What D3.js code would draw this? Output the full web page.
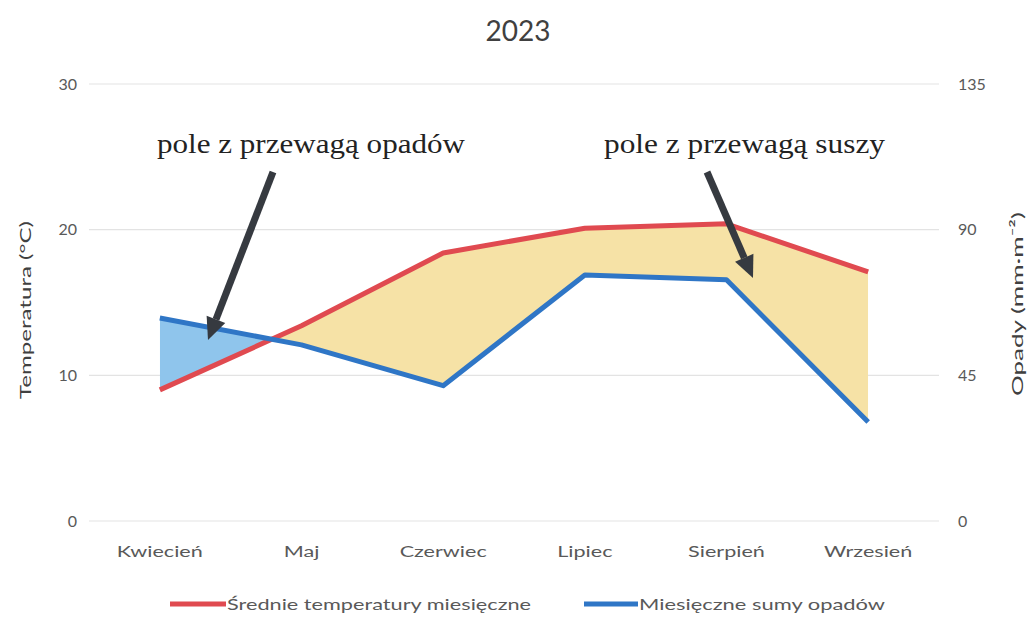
<!DOCTYPE html>
<html><head><meta charset="utf-8">
<script src="https://cdn.jsdelivr.net/npm/d3@7"></script>
<style>body{margin:0;background:#fff}svg{display:block}</style>
</head><body>
<svg id="c" width="1034" height="617"></svg>
<script>
const months = ["Kwiecień","Maj","Czerwiec","Lipiec","Sierpień","Wrzesień"];
const temperature = [9.0, 13.4, 18.4, 20.1, 20.4, 17.1];
const precipitation = [62.7, 54.4, 41.8, 76.0, 74.5, 30.6];
const tempTicks = [0,10,20,30];
const precTicks = [0,45,90,135];
const title = "2023";
const leftTitle = "Temperatura (°C)";
const rightTitle = "Opady (mm·m⁻²)";
const legendLabels = ["Średnie temperatury miesięczne","Miesięczne sumy opadów"];
const notes = ["pole z przewagą opadów","pole z przewagą suszy"];

const svg = d3.select("#c");
const L=89, R=939, T=84, B=521;
const RED="#e04a50", BLUE="#2f76c6", FILLY="#f6e2a6", FILLB="#8fc5ec", TXT="#595959";
const font="Lato, 'Open Sans', sans-serif";

const x = d3.scaleBand().domain(months).range([L,R]);
const cx = m => x(m)+x.bandwidth()/2;
const yT = d3.scaleLinear().domain([0,30]).range([B,T]);
const yP = d3.scaleLinear().domain([0,135]).range([B,T]);

// title
svg.append("text").attr("x",518).attr("y",41).attr("text-anchor","middle")
  .attr("font-family",font).attr("font-size",28).attr("fill","#404040").text(title);

// gridlines
svg.append("g").selectAll("line").data(tempTicks).join("line")
  .attr("x1",L).attr("x2",R).attr("y1",d=>yT(d)).attr("y2",d=>yT(d))
  .attr("stroke","#e3e3e3").attr("stroke-width",1.2);

// axes
const gl = svg.append("g").attr("transform",`translate(${L-12},0)`)
  .call(d3.axisLeft(yT).tickValues(tempTicks).tickSize(0).tickPadding(0));
const gr = svg.append("g").attr("transform",`translate(${R+19},0)`)
  .call(d3.axisRight(yP).tickValues(precTicks).tickSize(0).tickPadding(0));
const gx = svg.append("g").attr("transform",`translate(0,${B+22})`)
  .call(d3.axisBottom(x).tickSize(0).tickPadding(0));
[gl,gr,gx].forEach(g=>{g.select(".domain").remove();
  g.selectAll("text").attr("font-family",font).attr("font-size",16).attr("fill",TXT);});
gx.selectAll("text").attr("dy","0.9em").attr("transform","scale(1.35,1)");

// axis titles
svg.append("text").attr("transform",`translate(31,310) rotate(-90)`).attr("text-anchor","middle")
  .attr("font-family",font).attr("font-size",16).attr("fill","#404040")
  .attr("textLength",178).attr("lengthAdjust","spacingAndGlyphs").text(leftTitle);
svg.append("text").attr("transform",`translate(1023,304) rotate(-90)`).attr("text-anchor","middle")
  .attr("font-family",font).attr("font-size",16).attr("fill","#404040")
  .attr("textLength",184).attr("lengthAdjust","spacingAndGlyphs").text(rightTitle);

// fills between lines
const data = months.map((m,i)=>({m,t:temperature[i],p:precipitation[i]}));
const between = d3.area().x(d=>cx(d.m)).y0(d=>yT(d.t)).y1(d=>yP(d.p));
const above = d3.area().x(d=>cx(d.m)).y0(T-50).y1(d=>yT(d.t));
const below = d3.area().x(d=>cx(d.m)).y0(B+50).y1(d=>yT(d.t));
const defs = svg.append("defs");
defs.append("clipPath").attr("id","ca").append("path").attr("d",above(data));
defs.append("clipPath").attr("id","cb").append("path").attr("d",below(data));
svg.append("path").attr("d",between(data)).attr("fill",FILLB).attr("clip-path","url(#ca)");
svg.append("path").attr("d",between(data)).attr("fill",FILLY).attr("clip-path","url(#cb)");

// lines
svg.append("path").datum(data).attr("fill","none").attr("stroke",RED).attr("stroke-width",5)
  .attr("stroke-linejoin","round").attr("d",d3.line().x(d=>cx(d.m)).y(d=>yT(d.t)));
svg.append("path").datum(data).attr("fill","none").attr("stroke",BLUE).attr("stroke-width",5)
  .attr("stroke-linejoin","round").attr("d",d3.line().x(d=>cx(d.m)).y(d=>yP(d.p)));

// annotations
const serif="'Liberation Serif','Times New Roman',serif";
svg.append("text").attr("x",157).attr("y",153).attr("font-family",serif).attr("font-size",28)
  .attr("fill","#222").attr("textLength",308).attr("lengthAdjust","spacingAndGlyphs").text(notes[0]);
svg.append("text").attr("x",604).attr("y",153).attr("font-family",serif).attr("font-size",28)
  .attr("fill","#222").attr("textLength",281).attr("lengthAdjust","spacingAndGlyphs").text(notes[1]);

function arrow(x1,y1,x2,y2){
  const a=Math.atan2(y2-y1,x2-x1), hl=22, hw=10;
  const bx=x2-hl*Math.cos(a), by=y2-hl*Math.sin(a);
  svg.append("line").attr("x1",x1).attr("y1",y1).attr("x2",bx).attr("y2",by)
    .attr("stroke","#363a40").attr("stroke-width",7);
  const px=-Math.sin(a), py=Math.cos(a);
  svg.append("path").attr("d",`M${x2},${y2}L${bx+px*hw},${by+py*hw}L${bx-px*hw},${by-py*hw}Z`)
    .attr("fill","#363a40");
}
arrow(273,172,208,340);
arrow(707,172,753,278);

// legend
const lg = svg.append("g").attr("font-family",font).attr("font-size",16).attr("fill",TXT);
lg.append("line").attr("x1",170).attr("x2",226).attr("y1",604).attr("y2",604).attr("stroke",RED).attr("stroke-width",5);
lg.append("text").attr("x",227).attr("y",610).attr("textLength",304).attr("lengthAdjust","spacingAndGlyphs").text(legendLabels[0]);
lg.append("line").attr("x1",584).attr("x2",638).attr("y1",604).attr("y2",604).attr("stroke",BLUE).attr("stroke-width",5);
lg.append("text").attr("x",639).attr("y",610).attr("textLength",246).attr("lengthAdjust","spacingAndGlyphs").text(legendLabels[1]);
</script>
</body></html>
